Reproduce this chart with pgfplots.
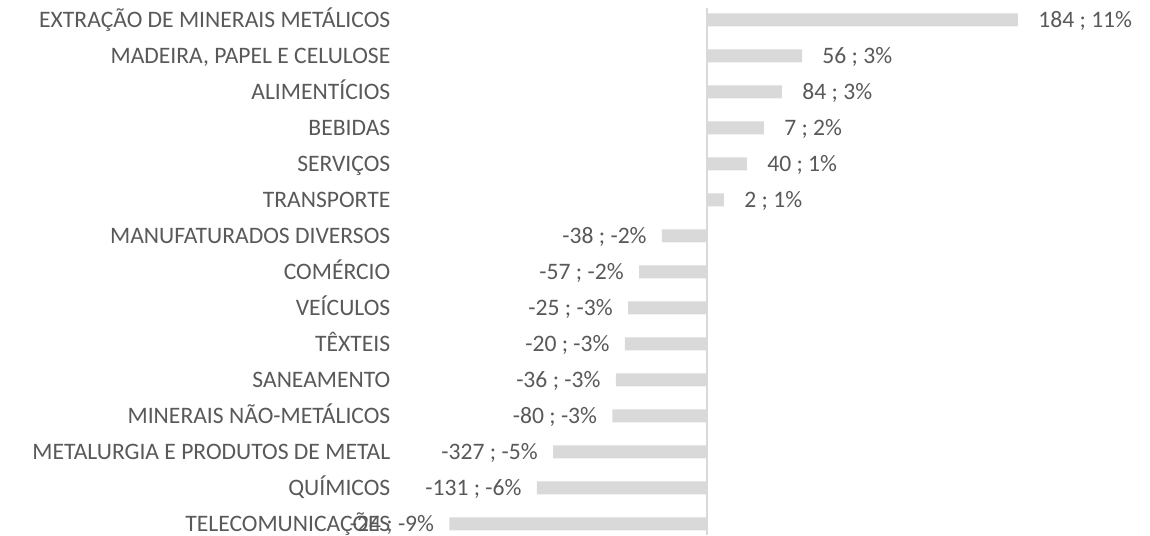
\documentclass[border=0pt]{standalone}
\usepackage{pgfplots}
\pgfplotsset{compat=1.18}
\usepackage{fontspec}
\setmainfont{Carlito}
\definecolor{barc}{HTML}{D9D9D9}
\definecolor{txt}{HTML}{595959}
\definecolor{axc}{HTML}{D9D9D9}
\newcommand{\semi}{;}
\begin{document}
\fontsize{11.8}{14}\selectfont
\begin{tikzpicture}[x=1pt,y=1pt]
\useasboundingbox (0,0) rectangle (575,267.5);
\begin{axis}[
  at={(197.85pt,0pt)}, anchor=south west,
  scale only axis, width=360.8pt, height=263.5pt,
  xmin=-11, xmax=14.5, ymin=-0.3056, ymax=14.3333,
  axis line style={draw=none},
  xtick=\empty,
  xbar, bar width=6.5pt, bar shift=0pt,
  ytick={0,...,14},
  yticklabels={TELECOMUNICAÇÕES,QUÍMICOS,METALURGIA E PRODUTOS DE METAL,MINERAIS NÃO-METÁLICOS,SANEAMENTO,TÊXTEIS,VEÍCULOS,COMÉRCIO,MANUFATURADOS DIVERSOS,TRANSPORTE,SERVIÇOS,BEBIDAS,ALIMENTÍCIOS,{MADEIRA, PAPEL E CELULOSE},EXTRAÇÃO DE MINERAIS METÁLICOS},
  yticklabel style={text=txt, font=\fontsize{11.8}{14}\selectfont, inner sep=0pt, xshift=-2.5pt, yshift=-1pt, text height=8.6pt, text depth=2.6pt, anchor=east},
  major tick length=0pt,
  clip=false,
  point meta=explicit symbolic,
  nodes near coords,
  every node near coord/.append style={text=txt, font=\fontsize{11.8}{14}\selectfont, inner sep=0pt, yshift=-1pt, text height=8.6pt, text depth=2.6pt},
]
\addplot[fill=barc, draw=none, every node near coord/.append style={anchor=west, xshift=10pt}] coordinates {
  (10.99,14) [184 \semi{} 11\%]
  (3.36,13) [56 \semi{} 3\%]
  (2.65,12) [84 \semi{} 3\%]
  (2.01,11) [7 \semi{} 2\%]
  (1.41,10) [40 \semi{} 1\%]
  (0.60,9) [2 \semi{} 1\%]
};
\addplot[fill=barc, draw=none, every node near coord/.append style={anchor=east, xshift=-7.5pt}] coordinates {
  (-1.59,8) [-38 \semi{} -2\%]
  (-2.40,7) [-57 \semi{} -2\%]
  (-2.79,6) [-25 \semi{} -3\%]
  (-2.90,5) [-20 \semi{} -3\%]
  (-3.22,4) [-36 \semi{} -3\%]
  (-3.34,3) [-80 \semi{} -3\%]
  (-5.44,2) [-327 \semi{} -5\%]
  (-6.01,1) [-131 \semi{} -6\%]
  (-9.10,0) [-24 \semi{} -9\%]
};
\draw[axc, line width=1pt] (axis cs:0,-0.3056) -- (axis cs:0,14.3333);
\end{axis}
\end{tikzpicture}
\end{document}
